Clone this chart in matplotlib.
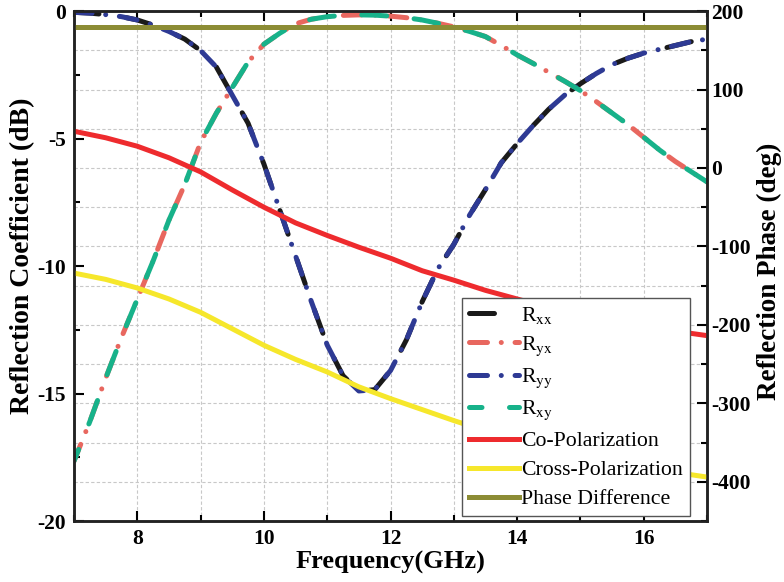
import numpy as np
import matplotlib
matplotlib.use("Agg")
import matplotlib.pyplot as plt
from matplotlib.ticker import MultipleLocator

plt.rcParams["font.family"] = ["Liberation Serif", "DejaVu Serif"]
plt.rcParams["mathtext.fontset"] = "stix"
plt.rcParams["axes.unicode_minus"] = False

# frequency grids (GHz)
freq_fine = [7.0, 7.25, 7.5, 7.75, 8.0, 8.25, 8.5, 8.75, 9.0, 9.25, 9.5, 9.75,
             10.0, 10.25, 10.5, 10.75, 11.0, 11.25, 11.5, 11.75, 12.0, 12.25,
             12.5, 12.75, 13.0, 13.25, 13.5, 13.75, 14.0, 14.25, 14.5, 14.75,
             15.0, 15.25, 15.5, 15.75, 16.0, 16.25, 16.5, 16.75, 17.0]
freq_coarse = [7.0, 7.5, 8.0, 8.5, 9.0, 9.5, 10.0, 10.5, 11.0, 11.5, 12.0,
               12.5, 13.0, 13.5, 14.0, 14.5, 15.0, 15.5, 16.0, 16.5, 17.0]

# co-polar magnitudes (dB)
r_xx = [-0.05, -0.08, -0.14, -0.22, -0.35, -0.55, -0.8, -1.1, -1.55, -2.2,
        -3.3, -4.4, -6.0, -7.8, -9.6, -11.4, -13.1, -14.3, -14.9, -14.85,
        -14.1, -12.9, -11.4, -10.1, -9.15, -8.0, -7.0, -5.95, -5.2, -4.5,
        -3.85, -3.3, -2.85, -2.45, -2.1, -1.85, -1.65, -1.5, -1.35, -1.2, -1.1]
r_yy = list(r_xx)  # symmetric structure: Ryy lies on Rxx

# cross-polar magnitudes (dB)
r_yx = [-17.65, -16.1, -14.4, -12.8, -11.3, -9.8, -8.2, -6.8, -5.15, -4.0,
        -3.0, -2.0, -1.3, -0.87, -0.5, -0.32, -0.22, -0.17, -0.15, -0.16,
        -0.2, -0.26, -0.35, -0.48, -0.62, -0.8, -1.0, -1.35, -1.72, -2.05,
        -2.4, -2.75, -3.12, -3.55, -4.0, -4.45, -4.95, -5.45, -5.9, -6.3, -6.7]
r_xy = list(r_yx)

# reflection phases (deg)
co_phase = [46.8, 38.5, 27.7, 13, -5, -28, -50, -70, -86, -101, -115,
            -131, -143, -156, -167, -178, -187, -195, -202, -208, -213.7]
cross_phase = [-134, -142, -153, -167, -184, -205, -226, -244, -260, -279,
               -294, -308, -322, -335, -347, -358, -367, -375, -382, -388, -394]
phase_diff = [180, 180, 180, 180, 180, 180, 180, 180, 180, 180, 180,
              180, 180, 180, 180, 180, 180, 180, 180, 180, 180]

LW = 3.6
fig = plt.figure(figsize=(7.84, 5.82), dpi=100)
ax = fig.add_axes([0.0944, 0.1048, 0.8074, 0.8762])
ax2 = ax.twinx()

# grid: every GHz vertically, every 50 deg of phase horizontally
for f in range(7, 18):
    ax.axvline(f, color="#c8c8c8", lw=0.8, ls=(0, (3, 2)), zorder=0.5)
for d in range(-450, 201, 50):
    ax.axhline(-20 + (d + 450) * 20 / 650, color="#c8c8c8", lw=0.8,
               ls=(0, (3, 2)), zorder=0.5)

dash_long = (0, (5, 5.5))
dash_dot = (0, (3.6, 2.75, 0.01, 2.75))
l1, = ax.plot(freq_fine, r_xx, color="#1a1a1a", lw=LW, ls=dash_long,
              dash_capstyle="round", label=r"R$_{\mathrm{xx}}$")
l2, = ax.plot(freq_fine, r_yx, color="#e8675f", lw=LW, ls=dash_dot,
              dash_capstyle="round", label=r"R$_{\mathrm{yx}}$")
l3, = ax.plot(freq_fine, r_yy, color="#2e3a94", lw=LW, ls=dash_dot,
              dash_capstyle="round", label=r"R$_{\mathrm{yy}}$")
l4, = ax.plot(freq_fine, r_xy, color="#17b28a", lw=LW, ls=(2.5, (5, 5.5)),
              dash_capstyle="round", label=r"R$_{\mathrm{xy}}$")

l5, = ax2.plot(freq_coarse, co_phase, color="#ee2b2e", lw=LW, label="Co-Polarization")
l6, = ax2.plot(freq_coarse, cross_phase, color="#f6e72b", lw=LW, label="Cross-Polarization")
l7, = ax2.plot(freq_coarse, phase_diff, color="#8c8c35", lw=LW, label="Phase Difference")

ax.set_xlim(7, 17)
ax.set_ylim(-20, 0)
ax2.set_ylim(-450, 200)

ax.xaxis.set_major_locator(MultipleLocator(2))
ax.xaxis.set_minor_locator(MultipleLocator(1))
ax.yaxis.set_major_locator(MultipleLocator(5))
ax.yaxis.set_minor_locator(MultipleLocator(2.5))
ax2.yaxis.set_major_locator(MultipleLocator(100))
ax2.yaxis.set_minor_locator(MultipleLocator(50))

ax.tick_params(which="both", direction="in", top=True, right=False, width=1.5,
               labelsize=15.5, pad=6)
ax.tick_params(which="major", length=7)
ax.tick_params(which="minor", length=4)
ax2.tick_params(which="both", direction="in", width=1.5, labelsize=15.5, pad=3)
ax2.tick_params(which="major", length=7)
ax2.tick_params(which="minor", length=4)
for t in ax.get_xticklabels() + ax.get_yticklabels() + ax2.get_yticklabels():
    t.set_fontweight("bold")
for a in (ax, ax2):
    for s in a.spines.values():
        s.set_linewidth(1.8)
        s.set_color("#222222")

ax.set_xlabel("Frequency(GHz)", fontsize=19, fontweight="bold", labelpad=1)
ax.set_ylabel("Reflection Coefficient (dB)", fontsize=20, fontweight="bold")
ax.yaxis.set_label_coords(-0.062, 0.52)
ax2.set_ylabel("Reflection Phase (deg)", fontsize=19.5, fontweight="bold")
ax2.yaxis.set_label_coords(1.078, 0.49)

leg = ax2.legend(handles=[l1, l2, l3, l4, l5, l6, l7], loc="upper left",
                 bbox_to_anchor=(0.613, 0.437), borderaxespad=0, fontsize=15.7,
                 fancybox=False, framealpha=1, edgecolor="#555555",
                 handlelength=2.3, handletextpad=0.12, labelspacing=0.4,
                 borderpad=0.3)
leg.get_frame().set_linewidth(1.0)

fig.savefig("out.png", dpi=100)
